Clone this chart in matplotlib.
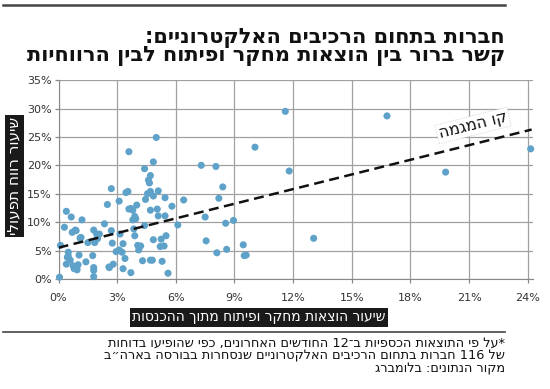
import re
import numpy as np
import matplotlib
matplotlib.use("Agg")
import matplotlib.pyplot as plt
from matplotlib.ticker import FuncFormatter

# R&D spend as % of revenue (x) vs operating margin % (y)
rnd = [0.05, 0.3, 0.4, 0.65, 0.1, 0.5, 0.5, 0.4, 0.6, 0.7, 0.9, 0.75, 0.8, 0.95, 1.0,
       1.05, 1.15, 1.2, 1.4, 1.5, 1.75, 1.8, 1.85, 1.95, 2.0, 1.8, 1.8, 1.8, 2.35, 2.5,
       2.6, 2.7, 2.7, 2.75, 2.8, 2.95, 3.1, 3.1, 3.15, 3.25, 3.3, 3.3, 3.4, 3.45, 3.55,
       3.6, 3.6, 3.7, 3.7, 3.8, 3.8, 3.85, 3.9, 3.9, 3.95, 4.0, 4.05, 4.1, 4.2, 4.3,
       4.4, 4.4, 4.45, 4.55, 4.6, 4.65, 4.7, 4.7, 4.7, 4.7, 4.8, 4.85, 4.85, 4.85, 5.0,
       5.05, 5.1, 5.1, 5.2, 5.25, 5.3, 5.4, 5.45, 5.45, 5.5, 5.6, 5.8, 6.1, 6.4, 7.3,
       7.5, 7.55, 8.05, 8.1, 8.2, 8.4, 8.55, 8.6, 8.95, 9.45, 9.5, 9.6, 10.05, 11.6, 11.8,
       13.05, 16.8, 19.8, 24.15,
       0.86, 1.1, 1.87, 2.09, 0.45, 0.93, 2.58]
margin = [0.3, 9.1, 11.9, 10.9, 5.9, 4.7, 4.0, 2.6, 3.3, 8.2, 8.5, 2.3, 1.8, 1.6, 2.5,
          4.2, 7.3, 10.4, 3.0, 6.4, 4.1, 8.6, 6.4, 7.9, 7.1, 2.0, 1.5, 0.4, 9.7, 13.1,
          2.0, 8.5, 15.9, 6.3, 2.6, 4.8, 5.1, 13.7, 7.9, 4.7, 6.2, 1.8, 3.6, 15.2, 15.4,
          22.4, 12.3, 12.4, 1.1, 12.1, 10.4, 8.8, 11.0, 7.6, 10.6, 13.0, 5.9, 5.1, 5.8, 3.2,
          9.4, 19.4, 14.0, 15.0, 17.4, 16.9, 3.3, 18.2, 12.1, 15.4, 3.3, 20.6, 6.9, 14.6, 24.9,
          12.3, 11.1, 15.5, 5.7, 7.0, 3.1, 5.8, 14.3, 11.1, 7.6, 1.0, 12.8, 9.5, 13.9, 20.0,
          10.9, 6.7, 19.8, 4.6, 14.2, 16.2, 9.8, 5.2, 10.3, 6.0, 4.1, 4.2, 23.2, 29.5, 19.0,
          7.15, 28.7, 18.8, 22.9,
          8.6, 7.2, 6.7, 7.9, 3.8, 1.9, 2.1]

trend_x = [0, 24.2]
trend_y = [5.5, 26.3]

x_ticks = [0, 3, 6, 9, 12, 15, 18, 21, 24]
y_ticks = [0, 5, 10, 15, 20, 25, 30, 35]

title1 = "חברות בתחום הרכיבים האלקטרוניים:"
title2 = "קשר ברור בין הוצאות מחקר ופיתוח לבין הרווחיות"
ylabel = "שיעור רווח תפעולי"
xlabel = "שיעור הוצאות מחקר ופיתוח מתוך ההכנסות"
trend_label = "קו המגמה"
notes = ["*על פי התוצאות הכספיות ב־12 החודשים האחרונים, כפי שהופיעו בדוחות",
         "של 116 חברות בתחום הרכיבים האלקטרוניים שנסחרות בבורסה בארה״ב",
         "מקור הנתונים: בלומברג"]


def heb(s):
    # matplotlib has no bidi: flip Hebrew, keep digit runs in order
    r = s[::-1]
    return re.sub(r"\d+", lambda m: m.group(0)[::-1], r)


plt.rcParams['font.family'] = ['DejaVu Sans']

fig = plt.figure(figsize=(5.5, 3.89), dpi=100)
ax = fig.add_axes([0.1064, 0.283, 0.862, 0.511])

ax.scatter(rnd, margin, s=26, color='#5fa2c9', edgecolors='none', zorder=3, clip_on=False)
ax.plot(trend_x, trend_y, color='#111111', lw=1.8, dashes=(4, 2.2), zorder=4)

ax.set_xlim(0, 24.25)
ax.set_ylim(0, 35)
ax.set_xticks(x_ticks)
ax.set_yticks(y_ticks)
ax.xaxis.set_major_formatter(FuncFormatter(lambda v, p: f"{v:.0f}%"))
ax.yaxis.set_major_formatter(FuncFormatter(lambda v, p: f"{v:.0f}%"))
ax.tick_params(length=3, width=0.9, color='#888888', labelsize=8, labelcolor='#333333')
ax.tick_params(axis='x', pad=7)
ax.tick_params(axis='y', pad=2)
ax.grid(True, color='#a0a0a0', lw=0.9)
ax.set_axisbelow(True)
for sp in ax.spines.values():
    sp.set_visible(False)
ax.spines['left'].set_visible(True)
ax.spines['bottom'].set_visible(True)
ax.spines['left'].set_color('#888888')
ax.spines['bottom'].set_color('#888888')

ax.text(21.2, 27.0, heb(trend_label), rotation=14, rotation_mode='anchor',
        ha='center', va='center', fontsize=11.5, color='#111111', zorder=5,
        bbox=dict(facecolor='white', edgecolor='#c8c8c8', lw=0.6, ls=':', pad=1.5))

# header
fig.add_artist(plt.Line2D([0.005, 0.918], [0.987, 0.987], color='#444444', lw=1.8))
fig.text(0.918, 0.903, heb(title1), ha='right', va='center', fontsize=15,
         fontweight='bold', color='#111111')
fig.text(0.918, 0.856, heb(title2), ha='right', va='center', fontsize=15,
         fontweight='bold', color='#111111')

# axis labels in black boxes
fig.text(0.026, 0.547, heb(ylabel), rotation=90, ha='center', va='center',
         fontsize=11, color='white',
         bbox=dict(facecolor='#1a1a1a', edgecolor='none', pad=1.5))
fig.text(0.471, 0.184, heb(xlabel), ha='center', va='center', fontsize=10,
         color='white', bbox=dict(facecolor='#1a1a1a', edgecolor='none', pad=1.5))

# footnotes
fig.add_artist(plt.Line2D([0.005, 0.918], [0.146, 0.146], color='#444444', lw=1.2))
fig.text(0.918, 0.134, "\n".join(heb(line) for line in notes), ha='right', va='top',
         multialignment='right', fontsize=9.3, linespacing=0.98, color='#111111')

fig.savefig("out.png", dpi=100)
